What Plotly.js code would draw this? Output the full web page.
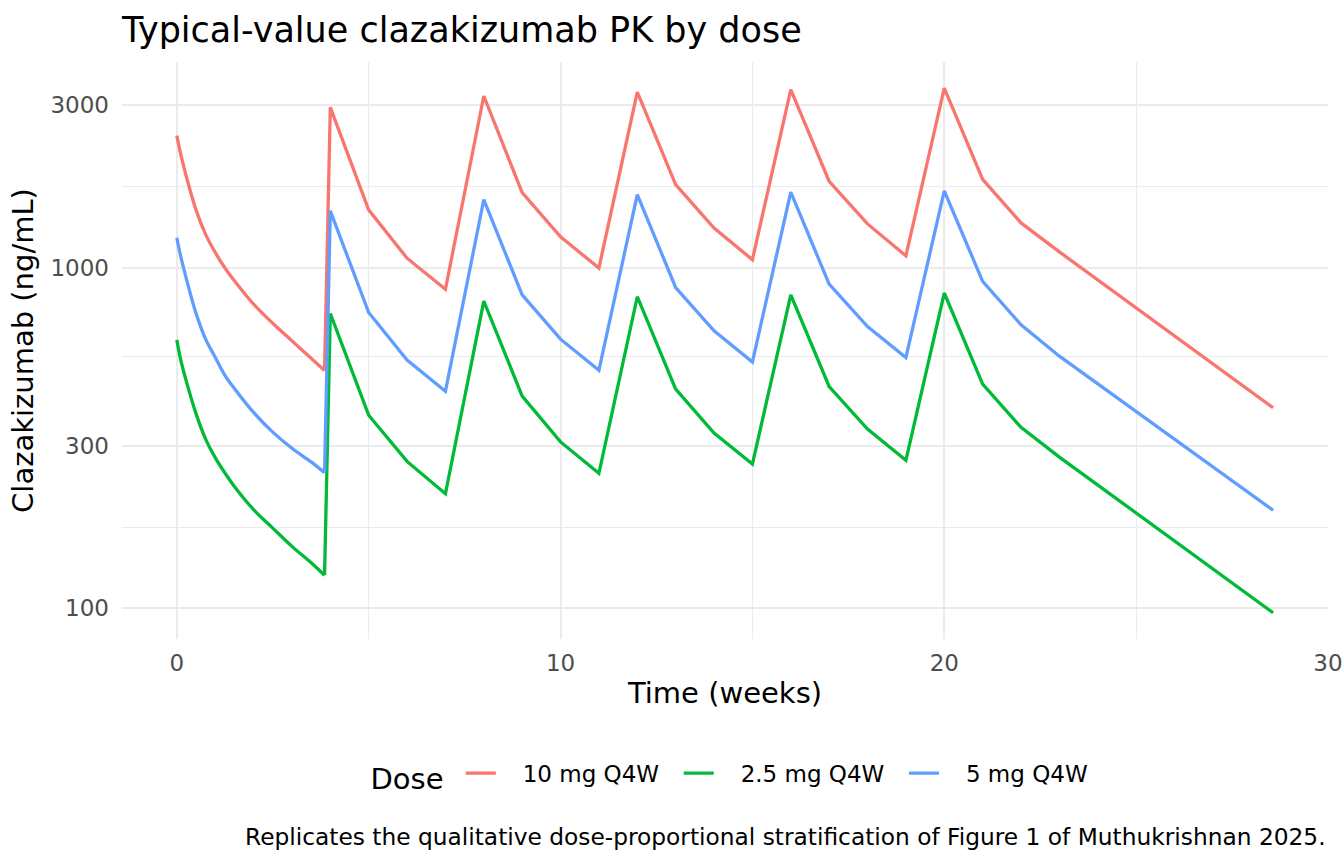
<!DOCTYPE html>
<html>
<head>
<meta charset="utf-8">
<script src="https://cdn.plot.ly/plotly-3.0.1.min.js"></script>
<style>
  html, body { margin: 0; padding: 0; background: #ffffff; }
  #chart { width: 1344px; height: 864px; }
</style>
</head>
<body>
<div id="chart"></div>
<script>
// Time grid (weeks)
const timeWeeks = [0, 0.1, 0.25, 0.5, 0.75, 1, 1.25, 1.5, 2, 2.5, 3, 3.5, 3.85,
  4, 5, 6, 7, 8, 9, 10, 11, 12, 13, 14, 15, 16, 17, 18, 19, 20, 21, 22, 23, 28.57];

// Concentrations (ng/mL)
const conc10mg = [2443, 2158, 1849, 1479, 1253, 1109, 1000, 916, 782, 687, 610, 542, 499,
  2958, 1479, 1067, 865, 3194, 1662, 1233, 998, 3281, 1754, 1308, 1056, 3334, 1795, 1345, 1084,
  3367, 1818, 1354, 1113, 388];
const conc2p5mg = [614, 537, 463, 373, 314, 277, 250, 228, 195, 172, 152, 136, 125,
  734, 369, 270, 217, 798, 420, 308, 249, 822, 440, 327, 265, 833, 448, 336, 272,
  843, 455, 340, 278, 97];
const conc5mg = [1225, 1081, 927, 735, 617, 546, 484, 442, 376, 329, 295, 269, 250,
  1469, 739, 536, 434, 1585, 832, 617, 500, 1640, 875, 653, 529, 1667, 895, 672, 545,
  1681, 912, 680, 550, 194];

const doseLabels = ['10 mg Q4W', '2.5 mg Q4W', '5 mg Q4W'];
const doseColors = ['#F8766D', '#00BA38', '#619CFF'];
const doseSeries = [conc10mg, conc2p5mg, conc5mg];

const xTicks = [0, 10, 20, 30];
const xMinor = [5, 15, 25];
const yTicks = [100, 300, 1000, 3000];
const yMinor = [173.2, 547.7, 1732.1];

// index of the last point of the first (continuous) dosing interval
const firstIntervalEnd = 12;

const FONT = 'DejaVu Sans, Verdana, sans-serif';
const NB = '\u00A0';

const traces = [];
doseSeries.forEach((vals, i) => {
  const isLast = i === doseSeries.length - 1;
  const label = NB + NB + NB + doseLabels[i] + (isLast ? '' : NB + NB);
  // continuous decay after the first dose (smooth)
  traces.push({
    type: 'scatter', mode: 'lines',
    x: timeWeeks.slice(0, firstIntervalEnd + 1),
    y: vals.slice(0, firstIntervalEnd + 1),
    name: label, legendgroup: 'g' + i, showlegend: false,
    line: { color: doseColors[i], width: 3.3, shape: 'spline', smoothing: 1 },
    hoverinfo: 'x+y'
  });
  // remaining dosing intervals
  traces.push({
    type: 'scatter', mode: 'lines',
    x: timeWeeks.slice(firstIntervalEnd),
    y: vals.slice(firstIntervalEnd),
    name: label, legendgroup: 'g' + i, showlegend: true,
    line: { color: doseColors[i], width: 3.3 },
    hoverinfo: 'x+y'
  });
});

const layout = {
  width: 1344,
  height: 864,
  margin: { l: 122, r: 16, t: 62, b: 225, pad: 0 },
  paper_bgcolor: '#ffffff',
  plot_bgcolor: '#ffffff',
  font: { family: FONT, color: '#000000' },
  title: {
    text: 'Typical-value clazakizumab PK by dose',
    font: { family: FONT, size: 35, color: '#000000' },
    xref: 'paper', x: 0, xanchor: 'left',
    yref: 'container', y: 1 - 30 / 864, yanchor: 'middle'
  },
  xaxis: {
    range: [-1.4286, 30.0001],
    tickmode: 'array',
    tickvals: xTicks,
    ticktext: xTicks.map(String),
    ticks: '',
    showline: false,
    zeroline: false,
    showgrid: true,
    gridcolor: '#EBEBEB',
    gridwidth: 2,
    minor: { tickmode: 'array', tickvals: xMinor, showgrid: true, gridcolor: '#EBEBEB', gridwidth: 1, ticks: '' },
    tickfont: { family: FONT, size: 23, color: '#4D4D4D' },
    ticklabelstandoff: 8,
    automargin: false,
    title: { text: 'Time (weeks)', font: { family: FONT, size: 29, color: '#000000' }, standoff: 7 }
  },
  yaxis: {
    type: 'log',
    range: [1.9098, 3.6042],
    tickmode: 'array',
    tickvals: yTicks,
    ticktext: yTicks.map(String),
    ticks: '',
    showline: false,
    zeroline: false,
    showgrid: true,
    gridcolor: '#EBEBEB',
    gridwidth: 2,
    minor: { tickmode: 'array', tickvals: yMinor, showgrid: true, gridcolor: '#EBEBEB', gridwidth: 1, ticks: '' },
    tickfont: { family: FONT, size: 23, color: '#4D4D4D' },
    ticklabelstandoff: 12,
    automargin: false,
    title: { text: 'Clazakizumab (ng/mL)', font: { family: FONT, size: 29, color: '#000000' }, standoff: 8 }
  },
  legend: {
    orientation: 'h',
    x: 0.505, xanchor: 'center',
    y: -0.237, yanchor: 'middle',
    title: { text: 'Dose' + NB, side: 'left', font: { family: FONT, size: 29, color: '#000000' } },
    font: { family: FONT, size: 23, color: '#000000' },
    bgcolor: 'rgba(0,0,0,0)',
    itemwidth: 30,
    traceorder: 'normal'
  },
  showlegend: true,
  annotations: [{
    text: 'Replicates the qualitative dose-proportional stratification of Figure 1 of Muthukrishnan 2025.',
    xref: 'paper', x: 1, xanchor: 'right',
    yref: 'paper', y: -0.342, yanchor: 'middle',
    showarrow: false,
    font: { family: FONT, size: 23.3, color: '#000000' }
  }]
};

Plotly.newPlot('chart', traces, layout, { displayModeBar: false });
</script>
</body>
</html>
